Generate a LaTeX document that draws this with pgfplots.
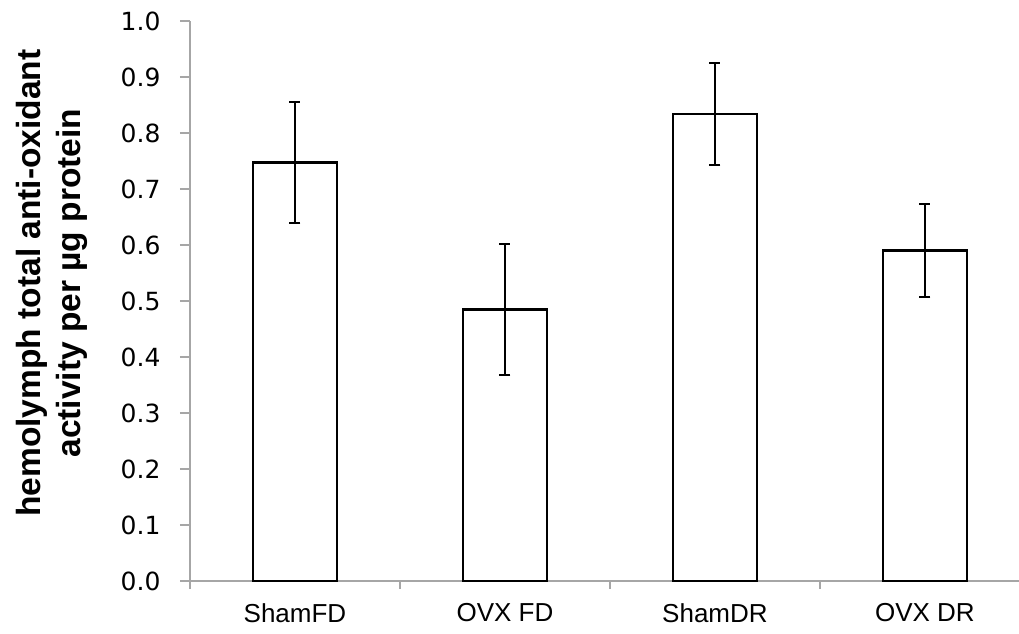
\documentclass[border=0pt]{standalone}
\usepackage{pgfplots}
\pgfplotsset{compat=1.18}
\usepackage{fontspec}
\setmainfont{Liberation Sans}
\newfontfamily\tickfont{DejaVu Sans}
\definecolor{axgray}{RGB}{166,166,166}
\pgfplotstableread{
x y e
0 0.747 0.108
1 0.485 0.117
2 0.834 0.091
3 0.590 0.083
}\datatable
\begin{document}
\begin{tikzpicture}
\begin{axis}[
  scale only axis, width=829pt, height=560pt,
  xmin=-0.5, xmax=3.448, ymin=0, ymax=1,
  axis x line*=bottom, axis y line*=left,
  axis line style={-, draw=axgray, line width=1.5pt},
  tick style={draw=axgray, line width=1.3pt},
  tick align=outside,
  major tick length=10pt, minor tick length=8pt,
  ytick={0,0.1,0.2,0.3,0.4,0.5,0.6,0.7,0.8,0.9,1.0},
  yticklabel={\pgfmathprintnumber[fixed,fixed zerofill,precision=1]{\tick}},
  /pgf/number format/assume math mode=true,
  yticklabel style={font=\tickfont\fontsize{25}{25}\selectfont, xshift=-16pt},
  xtick={0,1,2,3},
  xticklabels={ShamFD,OVX FD,ShamDR,OVX DR},
  major x tick style={draw=none},
  minor xtick={-0.5,0.5,1.5,2.5},
  xticklabel style={font=\fontsize{26}{26}\selectfont, yshift=-9pt},
  ylabel={hemolymph total anti-oxidant\\activity per µg protein},
  ylabel style={at={(axis description cs:-0.1665,0.532)}, anchor=center, align=center, font=\bfseries\fontsize{33.5}{40}\selectfont},
]
\addplot[ybar, bar width=0.4, fill=white, draw=black, line width=2.6pt,
  error bars/.cd, y dir=both, y explicit,
  error bar style={line width=2.2pt, black},
  error mark options={rotate=90, mark size=5.5pt, line width=2.2pt, black}]
  table[x=x, y=y, y error=e]{\datatable};
\end{axis}
\pgfresetboundingbox
\path[use as bounding box] (-190pt,-52pt) rectangle (829pt,581pt);
\end{tikzpicture}
\end{document}
